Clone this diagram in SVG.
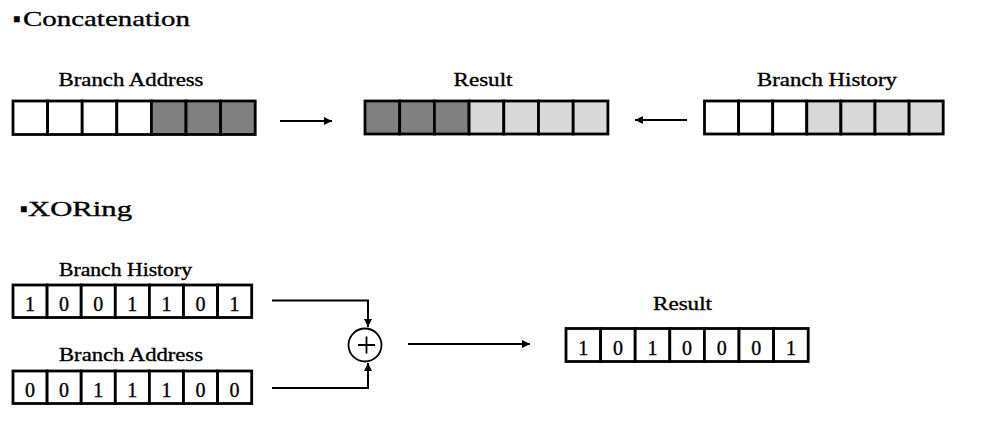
<svg xmlns="http://www.w3.org/2000/svg" width="984" height="440" viewBox="0 0 984 440">
<style>
text{font-family:"Liberation Serif","Times New Roman",serif;fill:#000;stroke:#000;stroke-width:0.35}
.title{font-size:22px}
.lbl{font-size:18px;text-anchor:middle}
.dig{font-size:20px;text-anchor:middle}
.c{stroke:#000;stroke-width:2.8}
.w{fill:#fff}
.d{fill:#808080}
.l{fill:#d9d9d9}
.conn{fill:none;stroke:#000;stroke-width:2}
</style>
<defs>
<marker id="ah" viewBox="0 0 10 10" refX="10" refY="5" markerWidth="4.5" markerHeight="4" orient="auto" markerUnits="strokeWidth">
<path d="M0,0 L10,5 L0,10 z" fill="#000"/>
</marker>
</defs>
<rect width="984" height="440" fill="#fff"/>

<g id="title-concat">
<text class="title" x="13" y="26" font-size="14">▪</text>
<text class="title" x="23" y="26" textLength="167" lengthAdjust="spacingAndGlyphs">Concatenation</text>
</g>
<g id="title-xor">
<text class="title" x="20" y="216" font-size="12">▪</text>
<text class="title" x="28" y="216" font-size="19" textLength="104" lengthAdjust="spacingAndGlyphs">XORing</text>
</g>

<g id="concat-branch-address">
<text class="lbl" x="131" y="85.5" textLength="145" lengthAdjust="spacingAndGlyphs">Branch Address</text>
<rect class="c w" x="13" y="101" width="34.6" height="33.5"/>
<rect class="c w" x="47.6" y="101" width="34.6" height="33.5"/>
<rect class="c w" x="82.2" y="101" width="34.6" height="33.5"/>
<rect class="c w" x="116.8" y="101" width="34.6" height="33.5"/>
<rect class="c d" x="151.4" y="101" width="34.6" height="33.5"/>
<rect class="c d" x="186" y="101" width="34.6" height="33.5"/>
<rect class="c d" x="220.6" y="101" width="34.6" height="33.5"/>
</g>

<g id="concat-result">
<text class="lbl" x="483" y="85.5" textLength="59" lengthAdjust="spacingAndGlyphs">Result</text>
<rect class="c d" x="365" y="101" width="34.7" height="33"/>
<rect class="c d" x="399.7" y="101" width="34.7" height="33"/>
<rect class="c d" x="434.4" y="101" width="34.7" height="33"/>
<rect class="c l" x="469.1" y="101" width="34.7" height="33"/>
<rect class="c l" x="503.8" y="101" width="34.7" height="33"/>
<rect class="c l" x="538.5" y="101" width="34.7" height="33"/>
<rect class="c l" x="573.2" y="101" width="34.7" height="33"/>
</g>

<g id="concat-branch-history">
<text class="lbl" x="827" y="85.5" textLength="140" lengthAdjust="spacingAndGlyphs">Branch History</text>
<rect class="c w" x="704.5" y="101" width="34.1" height="33"/>
<rect class="c w" x="738.6" y="101" width="34.1" height="33"/>
<rect class="c w" x="772.7" y="101" width="34.1" height="33"/>
<rect class="c l" x="806.8" y="101" width="34.1" height="33"/>
<rect class="c l" x="840.9" y="101" width="34.1" height="33"/>
<rect class="c l" x="875" y="101" width="34.1" height="33"/>
<rect class="c l" x="909.1" y="101" width="34.1" height="33"/>
</g>

<g id="xor-branch-history">
<text class="lbl" x="125.5" y="275.5" textLength="133" lengthAdjust="spacingAndGlyphs">Branch History</text>
<rect class="c w" x="13" y="285" width="34.1" height="32.5"/>
<rect class="c w" x="47.1" y="285" width="34.1" height="32.5"/>
<rect class="c w" x="81.2" y="285" width="34.1" height="32.5"/>
<rect class="c w" x="115.3" y="285" width="34.1" height="32.5"/>
<rect class="c w" x="149.4" y="285" width="34.1" height="32.5"/>
<rect class="c w" x="183.5" y="285" width="34.1" height="32.5"/>
<rect class="c w" x="217.6" y="285" width="34.1" height="32.5"/>
<text class="dig" x="30" y="310.5">1</text>
<text class="dig" x="64.1" y="310.5">0</text>
<text class="dig" x="98.2" y="310.5">0</text>
<text class="dig" x="132.3" y="310.5">1</text>
<text class="dig" x="166.4" y="310.5">1</text>
<text class="dig" x="200.5" y="310.5">0</text>
<text class="dig" x="234.6" y="310.5">1</text>
</g>

<g id="xor-branch-address">
<text class="lbl" x="131" y="360.5" textLength="144" lengthAdjust="spacingAndGlyphs">Branch Address</text>
<rect class="c w" x="13" y="371" width="34.1" height="32.5"/>
<rect class="c w" x="47.1" y="371" width="34.1" height="32.5"/>
<rect class="c w" x="81.2" y="371" width="34.1" height="32.5"/>
<rect class="c w" x="115.3" y="371" width="34.1" height="32.5"/>
<rect class="c w" x="149.4" y="371" width="34.1" height="32.5"/>
<rect class="c w" x="183.5" y="371" width="34.1" height="32.5"/>
<rect class="c w" x="217.6" y="371" width="34.1" height="32.5"/>
<text class="dig" x="30" y="396.5">0</text>
<text class="dig" x="64.1" y="396.5">0</text>
<text class="dig" x="98.2" y="396.5">1</text>
<text class="dig" x="132.3" y="396.5">1</text>
<text class="dig" x="166.4" y="396.5">1</text>
<text class="dig" x="200.5" y="396.5">0</text>
<text class="dig" x="234.6" y="396.5">0</text>
</g>

<g id="xor-op">
<circle cx="365" cy="345" r="16.5" fill="#fff" stroke="#000" stroke-width="1.8"/>
<path d="M358,345 H375 M366.5,336.5 V353.5" stroke="#000" stroke-width="1.8" fill="none"/>
</g>

<g id="xor-result">
<text class="lbl" x="682.5" y="310" textLength="59" lengthAdjust="spacingAndGlyphs">Result</text>
<rect class="c w" x="566" y="328.5" width="34.6" height="33"/>
<rect class="c w" x="600.6" y="328.5" width="34.6" height="33"/>
<rect class="c w" x="635.2" y="328.5" width="34.6" height="33"/>
<rect class="c w" x="669.8" y="328.5" width="34.6" height="33"/>
<rect class="c w" x="704.4" y="328.5" width="34.6" height="33"/>
<rect class="c w" x="739" y="328.5" width="34.6" height="33"/>
<rect class="c w" x="773.6" y="328.5" width="34.6" height="33"/>
<text class="dig" x="583.3" y="354.5">1</text>
<text class="dig" x="617.9" y="354.5">0</text>
<text class="dig" x="652.5" y="354.5">1</text>
<text class="dig" x="687.1" y="354.5">0</text>
<text class="dig" x="721.7" y="354.5">0</text>
<text class="dig" x="756.3" y="354.5">0</text>
<text class="dig" x="790.9" y="354.5">1</text>
</g>

<g id="connectors">
<path class="conn" d="M280,121 H332" marker-end="url(#ah)"/>
<path class="conn" d="M687,120 H635" marker-end="url(#ah)"/>
<path class="conn" d="M272,300.5 H368 V327" marker-end="url(#ah)"/>
<path class="conn" d="M272,388 H368 V363" marker-end="url(#ah)"/>
<path class="conn" d="M408,344 H530" marker-end="url(#ah)"/>
</g>
</svg>
